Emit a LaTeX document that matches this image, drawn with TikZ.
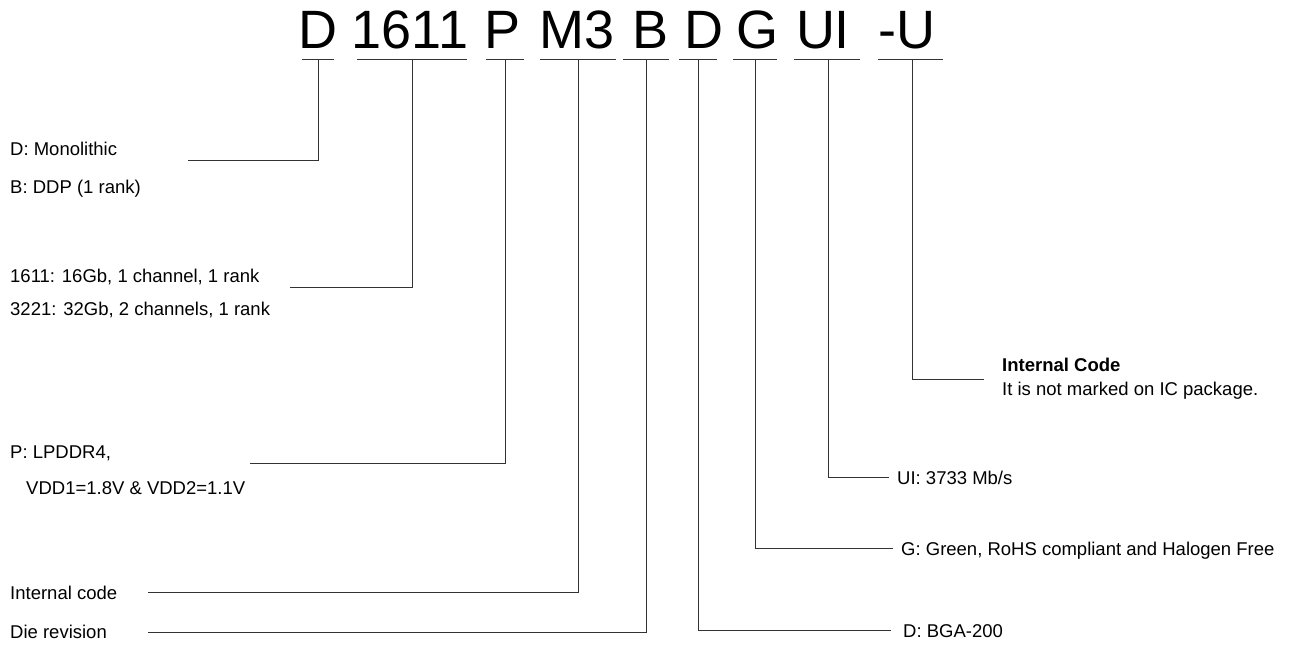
\documentclass[tikz,border=0pt]{standalone}
\usepackage{fontspec}
\setmainfont{Liberation Sans}
\usetikzlibrary{positioning,calc}

\begin{document}
\begin{tikzpicture}[
  x=1pt, y=-1pt,
  every node/.style={inner sep=0pt, font=\fontsize{18.5}{22}\selectfont},
  code/.style={anchor=base, font=\fontsize{54}{60}\selectfont},
  lbl/.style={anchor=base west},
  lead/.style={draw=black!80, line width=0.9pt}
]
  \useasboundingbox (0,0) rectangle (1298,645);

  % part number
  \node[code] (cD) at (318,48) {D};
  \node[code] (cDen) at (410,48) {1611};
  \node[code] (cP) at (503,48) {P};
  \node[code] (cM) at (577,48) {M3};
  \node[code] (cB) at (651,48) {B};
  \node[code] (cPkg) at (704,48) {D};
  \node[code] (cG) at (757,48) {G};
  \node[code] (cUI) at (823,48) {UI};
  \node[code] (cU) at (907,48) {-U};

  % underline centres
  \coordinate (uD) at (318,59);
  \coordinate (uDen) at (412,59);
  \coordinate (uP) at (505,59);
  \coordinate (uM) at (578,59);
  \coordinate (uB) at (646,59);
  \coordinate (uPkg) at (698,59);
  \coordinate (uG) at (755,59);
  \coordinate (uUI) at (828,59);
  \coordinate (uU) at (912,59);

  \draw[lead] ([xshift=-16pt]uD) -- ([xshift=16pt]uD);
  \draw[lead] ([xshift=-55pt]uDen) -- ([xshift=55pt]uDen);
  \draw[lead] ([xshift=-19pt]uP) -- ([xshift=19pt]uP);
  \draw[lead] ([xshift=-38pt]uM) -- ([xshift=38pt]uM);
  \draw[lead] ([xshift=-23pt]uB) -- ([xshift=23pt]uB);
  \draw[lead] ([xshift=-19pt]uPkg) -- ([xshift=19pt]uPkg);
  \draw[lead] ([xshift=-22pt]uG) -- ([xshift=22pt]uG);
  \draw[lead] ([xshift=-34pt]uUI) -- ([xshift=32pt]uUI);
  \draw[lead] ([xshift=-34pt]uU) -- ([xshift=31pt]uU);

  % left descriptions
  \node[lbl] (lMono) at (10,155) {D: Monolithic};
  \node[lbl] (lDDP) at (10,193) {B: DDP (1 rank)};
  \node[lbl] (l1611) at (10,282) {1611: 16Gb, 1 channel, 1 rank};
  \node[lbl] (l3221) at (10,315) {3221: 32Gb, 2 channels, 1 rank};
  \node[lbl] (lLP) at (10,458) {P: LPDDR4,};
  \node[lbl] (lVDD) at (26,494) {VDD1=1.8V \& VDD2=1.1V};
  \node[lbl] (lInt) at (10,599) {Internal code};
  \node[lbl] (lDie) at (10,638) {Die revision};

  % right descriptions
  \node[lbl, font=\fontsize{18.5}{22}\selectfont\bfseries] (lIC) at (1002,371) {Internal Code};
  \node[lbl] (lIC2) at (1002,395) {It is not marked on IC package.};
  \node[lbl] (lUI) at (897,484) {UI: 3733 Mb/s};
  \node[lbl] (lG) at (901,555) {G: Green, RoHS compliant and Halogen Free};
  \node[lbl] (lBGA) at (903,637) {D: BGA-200};

  % leader ends
  \coordinate (eD) at (188,160);
  \coordinate (eDen) at (290,287);
  \coordinate (eP) at (250,463);
  \coordinate (eM) at (148,592);
  \coordinate (eB) at (148,632);
  \coordinate (ePkg) at (891,630);
  \coordinate (eG) at (893,548);
  \coordinate (eUI) at (889,477);
  \coordinate (eU) at (984,379);

  \draw[lead] (uD) |- (eD);
  \draw[lead] (uDen) |- (eDen);
  \draw[lead] (uP) |- (eP);
  \draw[lead] (uM) |- (eM);
  \draw[lead] (uB) |- (eB);
  \draw[lead] (uPkg) |- (ePkg);
  \draw[lead] (uG) |- (eG);
  \draw[lead] (uUI) |- (eUI);
  \draw[lead] (uU) |- (eU);
\end{tikzpicture}
\end{document}
